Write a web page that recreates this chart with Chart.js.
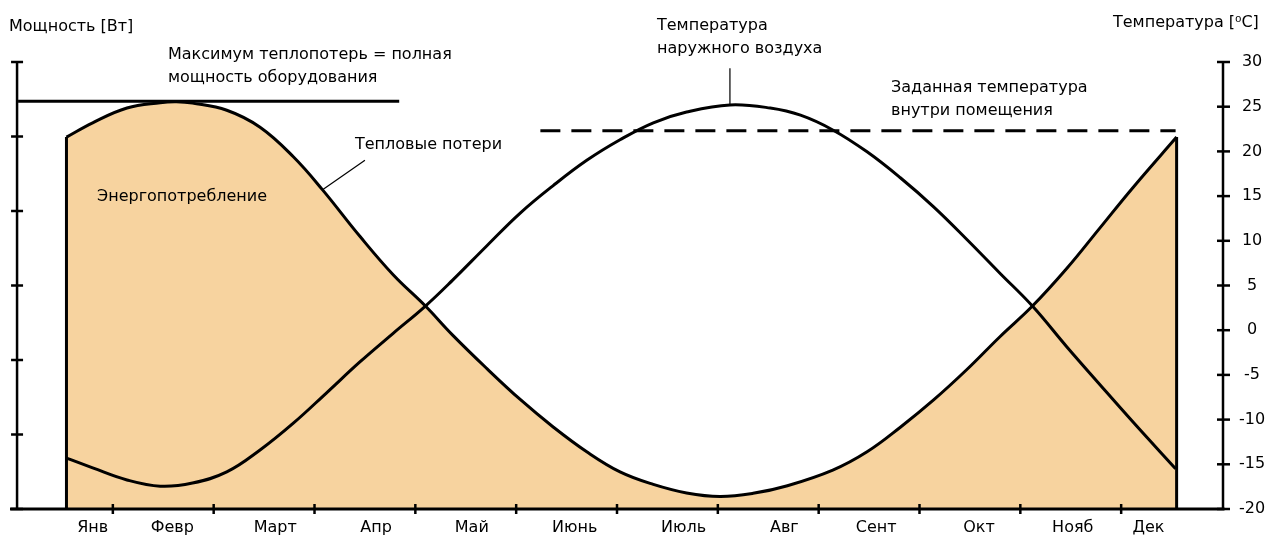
<!DOCTYPE html>
<html>
<head>
<meta charset="utf-8">
<title>Теплопотери и температура наружного воздуха</title>
<script src="https://cdn.jsdelivr.net/npm/chart.js@4.4.1/dist/chart.umd.min.js"></script>
<style>
  html, body { margin: 0; padding: 0; background: #fff; }
  canvas { display: block; }
</style>
</head>
<body>
<canvas id="heatChart" width="1271" height="535"></canvas>
<script>
// подписи месяцев и где они стоят на оси (в месяцах от начала года)
const monthNames = ["Янв", "Февр", "Март", "Апр", "Май", "Июнь", "Июль", "Авг", "Сент", "Окт", "Нояб", "Дек"];
const monthLabelAt = [0.80, 1.59, 2.61, 3.61, 4.56, 5.58, 6.66, 7.66, 8.57, 9.59, 10.52, 11.27];

// тепловые потери (в единицах правой шкалы)
const lossMonths = [0.54, 0.80, 1.14, 1.47, 1.63, 1.79, 2.13, 2.46, 2.79, 3.08, 3.45, 3.78, 4.10, 4.37, 4.71, 5.04, 5.37, 5.70,
  6.03, 6.36, 6.69, 7.02, 7.35, 7.69, 8.14, 8.48, 8.81, 9.14, 9.47, 9.80, 10.12, 10.46, 10.79, 11.12, 11.55];
const lossValues = [21.6, 23.2, 24.85, 25.45, 25.55, 25.4, 24.6, 22.7, 19.4, 15.7, 10.5, 6.2, 2.7, -0.55, -4.3, -7.75, -10.85, -13.6,
  -15.85, -17.25, -18.2, -18.6, -18.25, -17.4, -15.65, -13.6, -10.85, -7.8, -4.4, -0.7, 2.7, 6.9, 11.45, 16.0, 21.6];

// температура наружного воздуха, °C
const tempMonths = [0.54, 0.80, 1.14, 1.47, 1.79, 2.13, 2.46, 2.79, 3.12, 3.45, 3.78, 4.10, 4.37, 4.71, 5.04, 5.37, 5.70,
  6.03, 6.36, 6.69, 7.12, 7.52, 7.82, 8.14, 8.48, 8.81, 9.14, 9.47, 9.80, 10.12, 10.46, 10.79, 11.12, 11.54];
const tempValues = [-14.3, -15.4, -16.75, -17.45, -17.1, -15.85, -13.4, -10.4, -7.0, -3.55, -0.35, 2.7, 5.6, 9.45, 13.1, 16.2, 19.0,
  21.3, 23.2, 24.4, 25.2, 24.85, 24.05, 22.4, 19.95, 17.05, 13.8, 10.15, 6.35, 2.7, -1.85, -6.1, -10.3, -15.5];

// горизонтальные линии: максимум теплопотерь и заданная температура
const maxLossLevel = 25.6;
const maxLossSpan = [0.06, 3.84];
const setpointLevel = 22.3;
const setpointSpan = [5.24, 11.54];

// выноски к подписям
const lossLeader = [[3.50, 19.0], [3.08, 15.7]];
const tempLeader = [[7.12, 29.3], [7.12, 25.2]];

const FAMILY = '"DejaVu Sans", Verdana, sans-serif';
const FILL = '#F7D39F';

const pts = (xs, ys) => xs.map((m, i) => ({ x: m, y: ys[i] }));
const flat = (span, level) => span.map(m => ({ x: m, y: level }));
const pairs = p => p.map(([m, v]) => ({ x: m, y: v }));

const lossData = pts(lossMonths, lossValues);
const first = lossData[0], last = lossData[lossData.length - 1];

const plain = { pointRadius: 0, borderColor: '#000', fill: false, tension: 0 };

const notes = [
  { x: 9, y: 31, lines: ["Мощность [Вт]"] },
  { x: 1113, y: 27, lines: ["Температура [⁰C]"] },
  { x: 168, y: 59, lines: ["Максимум теплопотерь = полная", "мощность оборудования"] },
  { x: 355, y: 149, lines: ["Тепловые потери"] },
  { x: 97, y: 201, lines: ["Энергопотребление"] },
  { x: 657, y: 30, lines: ["Температура", "наружного воздуха"] },
  { x: 891, y: 92, lines: ["Заданная температура", "внутри помещения"] }
];

// оси, засечки и подписи рисуем сами поверх графика
const axesAndNotes = {
  id: 'axesAndNotes',
  afterDraw(chart) {
    const { ctx, chartArea: a, scales: { x, y } } = chart;
    const seg = (x1, y1, x2, y2) => { ctx.beginPath(); ctx.moveTo(x1, y1); ctx.lineTo(x2, y2); ctx.stroke(); };
    ctx.save();
    ctx.strokeStyle = '#000';

    const lx = x.getPixelForValue(0.05);
    ctx.lineWidth = 3;
    seg(a.left, a.bottom, a.right + 1.5, a.bottom);
    ctx.lineWidth = 2.5;
    seg(lx, a.top, lx, a.bottom);
    seg(a.right, a.top, a.right, a.bottom);

    // левая шкала без подписей: 6 делений
    for (let k = 0; k <= 6; k++) {
      const py = y.getPixelForValue(y.min + k * (y.max - y.min) / 6);
      seg(lx - 6, py, lx + 6, py);
    }
    y.ticks.forEach(t => {
      const py = y.getPixelForValue(t.value);
      seg(a.right - 6, py, a.right + 7, py);
    });
    for (let m = 1; m <= 11; m++) {
      const px = x.getPixelForValue(m);
      seg(px, a.bottom - 5, px, a.bottom + 5);
    }

    ctx.fillStyle = '#000';
    ctx.font = '16px ' + FAMILY;
    ctx.textBaseline = 'alphabetic';
    ctx.textAlign = 'left';
    notes.forEach(n => n.lines.forEach((s, i) => ctx.fillText(s, n.x, n.y + i * 23)));
    ctx.restore();
  }
};

new Chart(document.getElementById('heatChart'), {
  type: 'line',
  data: {
    datasets: [
      { ...plain, label: 'Температура наружного воздуха', data: pts(tempMonths, tempValues),
        borderWidth: 3, tension: 0.4 },
      { ...plain, label: 'edgeL', data: [{ x: first.x, y: -20 }, first], borderWidth: 3 },
      { ...plain, label: 'edgeR', data: [{ x: last.x, y: -20 }, last], borderWidth: 3 },
      { ...plain, label: 'Тепловые потери', data: lossData, borderWidth: 3,
        tension: 0.4, fill: 'start', backgroundColor: FILL },
      { ...plain, label: 'Максимум теплопотерь', data: flat(maxLossSpan, maxLossLevel), borderWidth: 3 },
      { ...plain, label: 'Заданная температура', data: flat(setpointSpan, setpointLevel), borderWidth: 3,
        borderDash: [20, 11] },
      { ...plain, label: 'leaderLoss', data: pairs(lossLeader), borderWidth: 1.2 },
      { ...plain, label: 'leaderTemp', data: pairs(tempLeader), borderWidth: 1.2 }
    ]
  },
  options: {
    responsive: false,
    animation: false,
    layout: { padding: { left: 10, top: 62, right: 0, bottom: 0 } },
    plugins: { legend: { display: false }, tooltip: { enabled: false } },
    scales: {
      x: {
        type: 'linear', min: -0.02, max: 12.01,
        grid: { display: false, drawTicks: false },
        border: { display: false },
        afterBuildTicks: s => { s.ticks = monthLabelAt.map(v => ({ value: v })); },
        afterFit: s => { s.height = 26; },
        ticks: {
          padding: 11, autoSkip: false, maxRotation: 0, color: '#000',
          font: { family: FAMILY, size: 16, lineHeight: 1 },
          callback: (v, i) => monthNames[i]
        }
      },
      y: {
        position: 'right', min: -20, max: 30,
        grid: { display: false, drawTicks: false },
        border: { display: false },
        afterFit: s => { s.width = 48; },
        ticks: {
          stepSize: 5, padding: 16, crossAlign: 'center', color: '#000',
          font: { family: FAMILY, size: 16 }
        }
      }
    }
  },
  plugins: [axesAndNotes]
});
</script>
</body>
</html>
